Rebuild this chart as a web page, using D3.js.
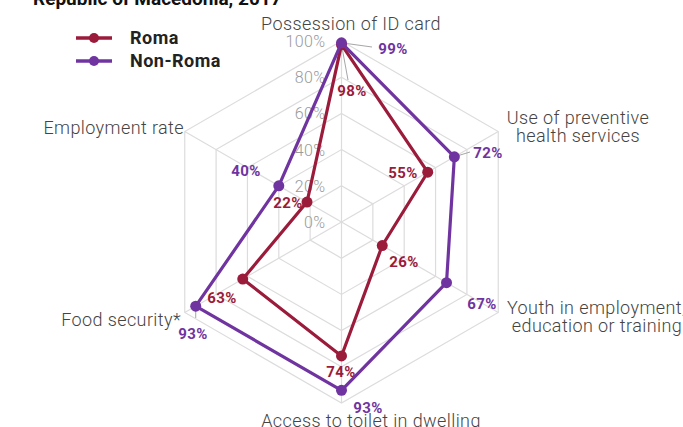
<!DOCTYPE html>
<html>
<head>
<meta charset="utf-8">
<script src="https://cdn.jsdelivr.net/npm/d3@7"></script>
<style>
  body { margin: 0; background: #fff; }
  svg { display: block; font-family: Roboto, "Noto Sans", sans-serif; }
</style>
</head>
<body>
<svg id="chart" width="683" height="427"></svg>
<script>
// radar chart data
var axes = ["Possession of ID card", "Use of preventive health services",
  "Youth in employment, education or training", "Access to toilet in dwelling",
  "Food security*", "Employment rate"];
var roma = [98, 55, 26, 74, 63, 22];
var nonRoma = [99, 72, 67, 93, 93, 40];
var ticks = [0, 20, 40, 60, 80, 100];
var seriesNames = ["Roma", "Non-Roma"];

var colors = ["#9b1b3b", "#7034a0"];

// where the axis names and value labels sit (layout only)
var axisLabelPos = [
  {x: 351, y: 30, anchor: "middle", lines: ["Possession of ID card"]},
  {x: 578, y: 124, anchor: "middle", lines: ["Use of preventive", "health services"]},
  {x: 507, y: 314, anchor: "start", lines: ["Youth in employment,", " education or training"]},
  {x: 371, y: 427, anchor: "middle", lines: ["Access to toilet in dwelling"]},
  {x: 181, y: 326, anchor: "end", lines: ["Food security*"]},
  {x: 184, y: 134, anchor: "end", lines: ["Employment rate"]}
];
var romaLabelPos = [[352, 96], [403, 178], [404, 267], [341, 377], [222, 303], [288, 208]];
var nonRomaLabelPos = [[393, 54], [488, 158], [482, 309], [368, 413], [193, 339], [246, 176]];

var svg = d3.select("#chart");
var cx = 341.5, cy = 222;

var r = d3.scaleLinear().domain([0, 100]).range([0, 181]);
var angle = d3.scaleLinear().domain([0, axes.length]).range([0, 2 * Math.PI]);

function pt(i, v) {
  var a = angle(i);
  return [cx + r(v) * Math.sin(a), cy - r(v) * Math.cos(a)];
}

// title (cut off at top in the original)
svg.append("text")
  .attr("x", 33).attr("y", 5)
  .attr("font-size", 19).attr("font-weight", "bold").attr("fill", "#111")
  .text("Republic of Macedonia, 2017");

var grid = svg.append("g");

// hexagon rings
ticks.filter(function(t) { return t > 0; }).forEach(function(t) {
  var ring = d3.range(axes.length).map(function(i) { return pt(i, t); });
  grid.append("polygon")
    .attr("points", ring.map(function(p) { return p.join(","); }).join(" "))
    .attr("fill", "none").attr("stroke", "#dcdcdc").attr("stroke-width", 1.2);
});

// spokes
axes.forEach(function(a, i) {
  var p = pt(i, 100);
  grid.append("line")
    .attr("x1", cx).attr("y1", cy).attr("x2", p[0]).attr("y2", p[1])
    .attr("stroke", "#dcdcdc").attr("stroke-width", 1.2);
});

// tick labels
ticks.forEach(function(t) {
  svg.append("text")
    .attr("x", cx - 16).attr("y", cy - r(t) + 6)
    .attr("text-anchor", "end").attr("font-size", 16).attr("font-weight", 300)
    .attr("letter-spacing", 0.4).attr("fill", "#9a9a9a")
    .text(t + "%");
});

// axis names
axisLabelPos.forEach(function(d) {
  var t = svg.append("text")
    .attr("text-anchor", d.anchor).attr("font-size", 18).attr("font-weight", 300)
    .attr("letter-spacing", 0.4).attr("fill", "#444");
  d.lines.forEach(function(l, k) {
    t.append("tspan").attr("x", d.x).attr("y", d.y + k * 18).text(l);
  });
});

// leader lines
var leaders = [
  [pt(0, 99), [372, 47]],
  [pt(0, 98), [348, 80]],
  [pt(1, 72), [470, 152]],
  [pt(4, 93), [pt(4, 93)[0], 318]]
];
leaders.forEach(function(l) {
  svg.append("line")
    .attr("x1", l[0][0]).attr("y1", l[0][1]).attr("x2", l[1][0]).attr("y2", l[1][1])
    .attr("stroke", "#a6a6a6").attr("stroke-width", 1);
});

var line = d3.line().curve(d3.curveLinearClosed);
var series = [roma, nonRoma];
var labelPos = [romaLabelPos, nonRomaLabelPos];

series.forEach(function(vals, s) {
  var pts = vals.map(function(v, i) { return pt(i, v); });
  var g = svg.append("g");
  g.append("path")
    .attr("d", line(pts))
    .attr("fill", "none").attr("stroke", colors[s]).attr("stroke-width", 3.2)
    .attr("stroke-linejoin", "round");
  g.selectAll("circle").data(pts).enter().append("circle")
    .attr("cx", function(p) { return p[0]; })
    .attr("cy", function(p) { return p[1]; })
    .attr("r", 5.5).attr("fill", colors[s]);
  g.selectAll("text").data(vals).enter().append("text")
    .attr("x", function(v, i) { return labelPos[s][i][0]; })
    .attr("y", function(v, i) { return labelPos[s][i][1]; })
    .attr("text-anchor", "middle").attr("font-size", 15).attr("font-weight", "bold")
    .attr("letter-spacing", 0.4).attr("fill", colors[s])
    .text(function(v) { return v + "%"; });
});

// legend
var legend = svg.append("g");
seriesNames.forEach(function(n, i) {
  var y = 38 + i * 23;
  legend.append("line")
    .attr("x1", 76).attr("x2", 112).attr("y1", y).attr("y2", y)
    .attr("stroke", colors[i]).attr("stroke-width", 3.5);
  legend.append("circle").attr("cx", 94).attr("cy", y).attr("r", 5).attr("fill", colors[i]);
  legend.append("text")
    .attr("x", 130).attr("y", y + 6)
    .attr("font-size", 18).attr("font-weight", "bold").attr("letter-spacing", 0.5)
    .attr("fill", "#222")
    .text(n);
});
</script>
</body>
</html>
